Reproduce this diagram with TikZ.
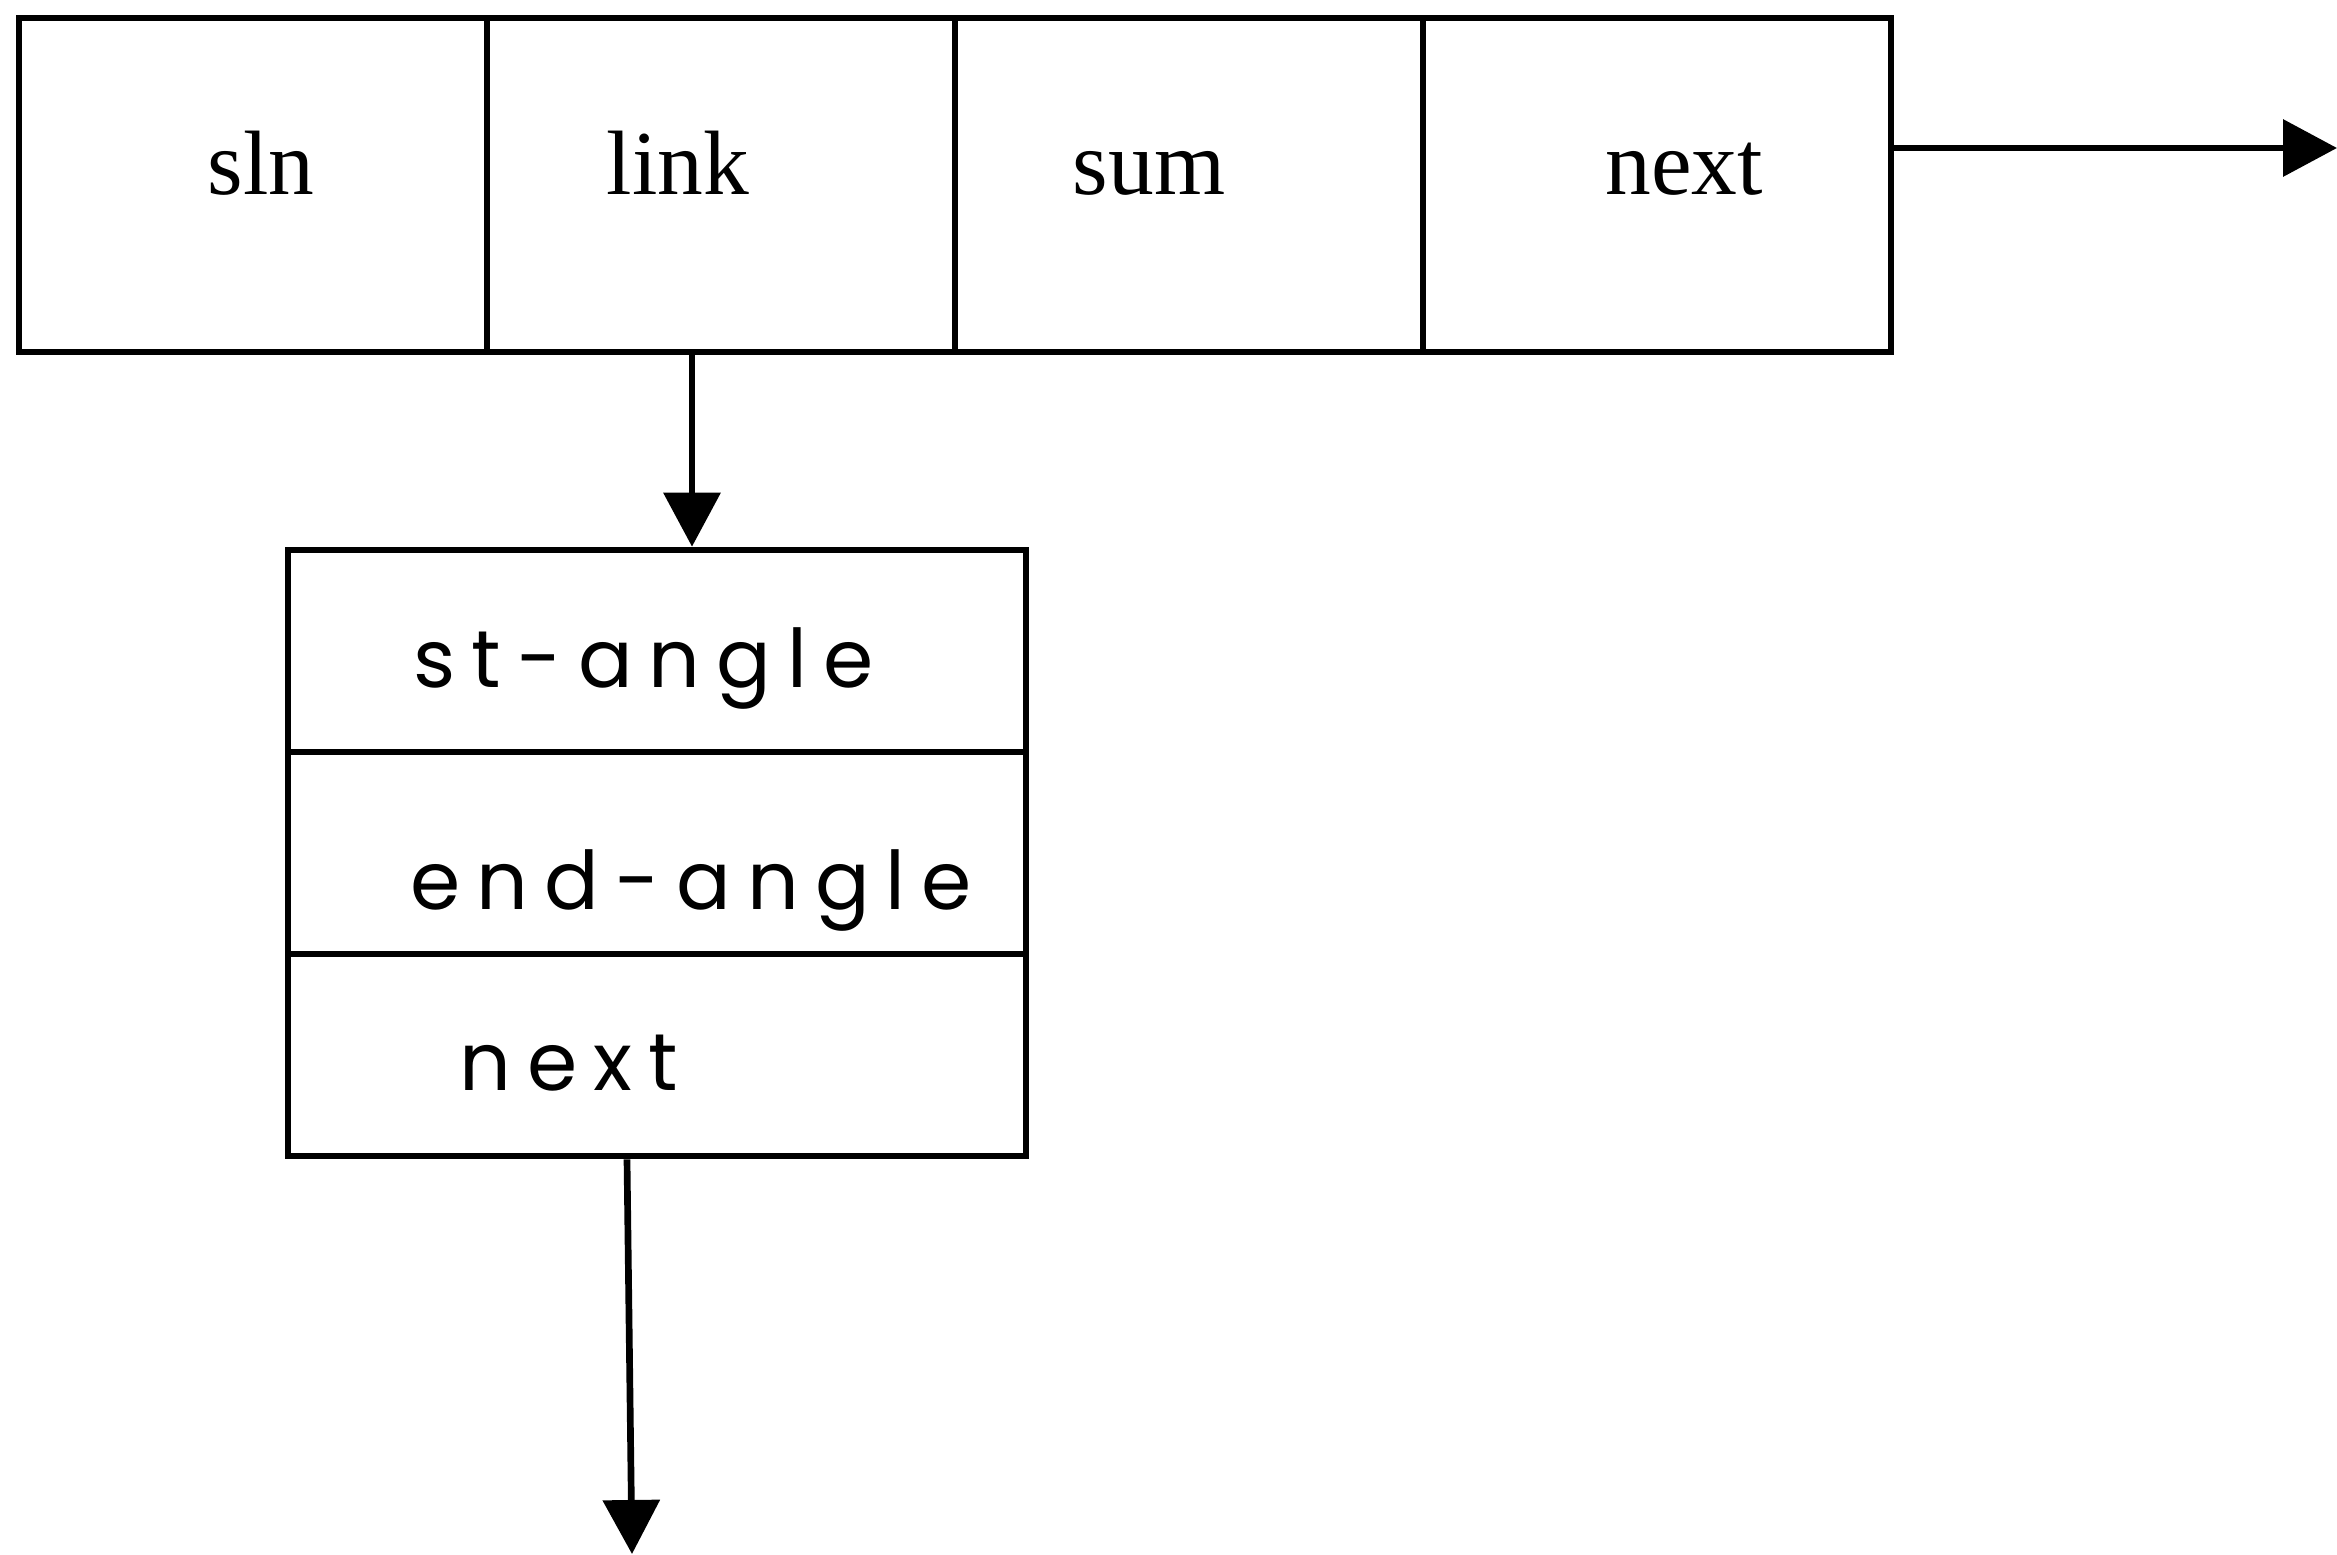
\documentclass[tikz,border=0pt]{standalone}
\usepackage{fontspec}
\setmainfont{Liberation Serif}
\newfontfamily\handfont[LetterSpace=20]{Poppins}
\usetikzlibrary{arrows.meta,calc}
\begin{document}
\begin{tikzpicture}[x=0.01cm,y=-0.01cm,
  line width=1.9pt,
  cellbox/.style={draw,rectangle,inner sep=0pt,minimum width=#1*0.01cm},
  topcell/.style={cellbox=468,minimum height=0.01cm*334},
  lowcell/.style={cellbox=738,minimum height=0.01cm*202},
  toptext/.style={font=\fontsize{26}{30}\selectfont,anchor=base,inner sep=0pt},
  handtext/.style={font=\handfont\fontsize{23}{26}\selectfont,anchor=base west,inner sep=0pt},
  arr/.style={-{Triangle[length=0.54cm,width=0.56cm]}}]
\useasboundingbox (0,0) rectangle (2337,1554);
% top record
\node[topcell] (c1) at (253,185) {};
\node[topcell] (c2) at (721,185) {};
\node[topcell] (c3) at (1189,185) {};
\node[topcell] (c4) at (1657,185) {};
\node[toptext] (t1) at (261,194) {sln};
\node[toptext] (t2) at (678,194) {link};
\node[toptext] (t3) at (1149,194) {sum};
\node[toptext] (t4) at (1684,194) {next};
% lower record
\node[lowcell] (l1) at (657,651) {};
\node[lowcell] (l2) at (657,853) {};
\node[lowcell] (l3) at (657,1055) {};
\node[handtext] (h1) at (410,687) {st-angle};
\node[handtext] (h2) at (407,909) {end-angle};
\node[handtext] (h3) at (456,1090) {next};
% connectors
\coordinate (e1) at (2337,148);
\coordinate (s2) at (692,352);
\coordinate (s3) at (627,1157);
\coordinate (e3) at (632,1554);
\draw[arr] (c4.east |- e1) -- (e1);
\draw[arr] (c2.south -| s2) -- (l1.north -| s2);
\draw[arr] (l3.south -| s3) -- (e3);
\end{tikzpicture}
\end{document}
